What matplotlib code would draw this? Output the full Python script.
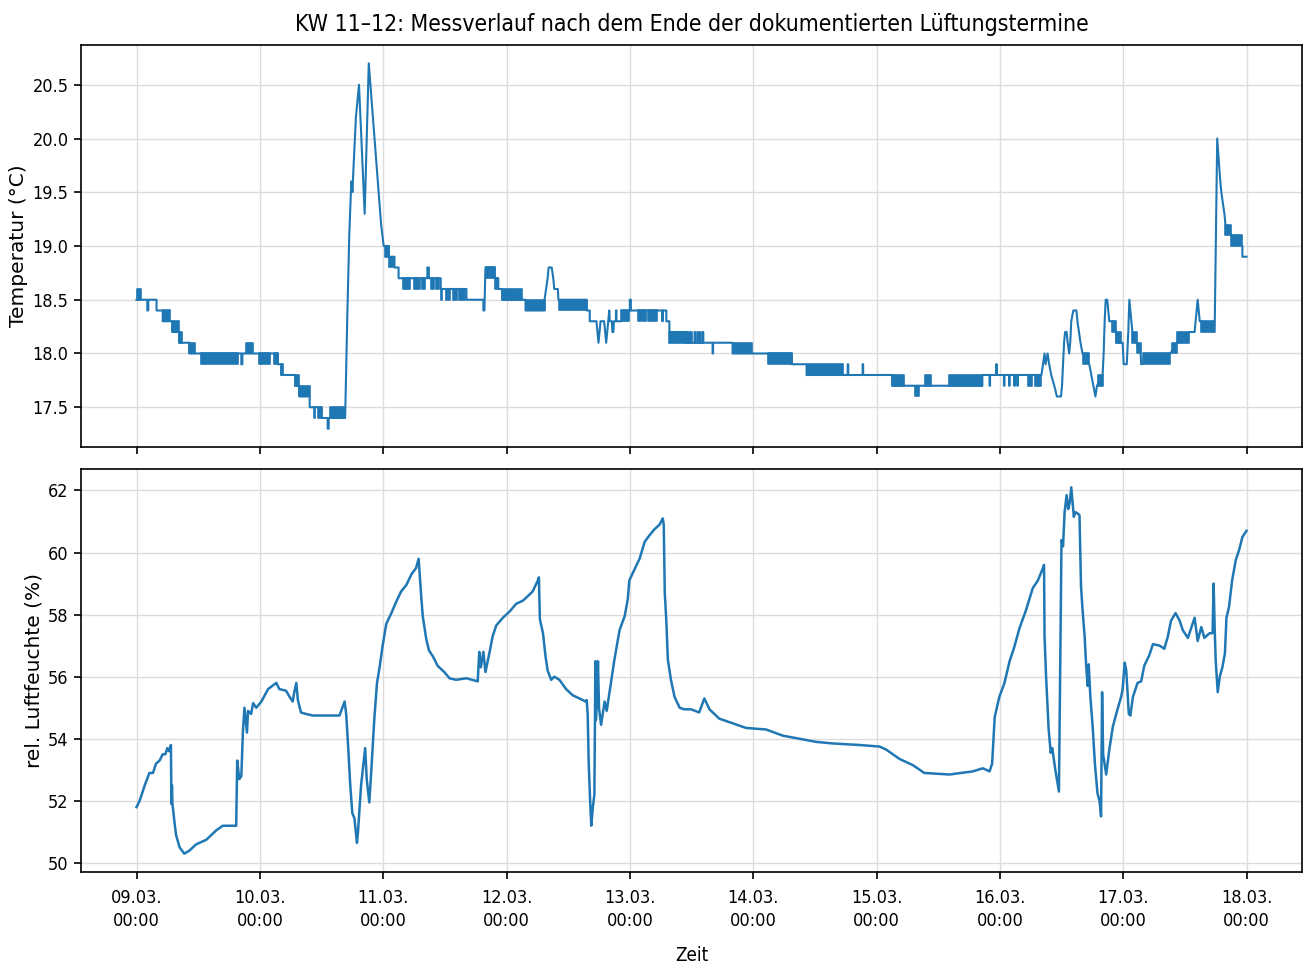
import pandas as pd
import matplotlib
matplotlib.use('Agg')
import matplotlib.pyplot as plt
import matplotlib.dates as mdates
from matplotlib.ticker import MultipleLocator

plt.rcParams['font.family'] = ['DejaVu Sans']
plt.rcParams['font.stretch'] = 'condensed'
plt.rcParams['font.size'] = 13

start = pd.Timestamp('2026-03-09 00:00')
title = 'KW 11\u201312: Messverlauf nach dem Ende der dokumentierten L\u00fcftungstermine'
blue = '#1f77b4'

# Temperatur: (Stunden ab 09.03. 00:00, °C)
temp_points = [
    (0.0, 18.5), (2.1, 18.5), (2.1, 18.4), (2.3, 18.4), (2.3, 18.5),
    (3.9, 18.5), (3.9, 18.4), (5.1, 18.4), (5.1, 18.3), (7.0, 18.3), (7.0, 18.2),
    (8.3, 18.2), (8.3, 18.1), (10.3, 18.1), (10.3, 18.0),
    (20.4, 18.0), (20.4, 17.9), (20.6, 17.9), (20.6, 18.0),
    (27.5, 18.0), (27.5, 17.9), (28.2, 17.9), (28.2, 17.8), (30.9, 17.8), (30.9, 17.7),
    (31.7, 17.7), (31.7, 17.6), (33.7, 17.6), (33.7, 17.5), (36.0, 17.5), (36.0, 17.4),
    (37.2, 17.4), (37.2, 17.3), (37.4, 17.3), (37.4, 17.4), (40.6, 17.4),
    (41.0, 18.3), (41.4, 19.1), (41.8, 19.6), (42.1, 19.6), (42.7, 20.2), (43.3, 20.5),
    (44.4, 19.3), (45.2, 20.7), (46.0, 20.2), (46.8, 19.7), (47.3, 19.4), (47.6, 19.2),
    (48.1, 19.0), (49.1, 19.0), (49.1, 18.9), (50.2, 18.9), (50.2, 18.8), (51.0, 18.8), (51.0, 18.7),
    (56.6, 18.7), (56.6, 18.8), (56.9, 18.8), (56.9, 18.7), (59.2, 18.7), (59.2, 18.6),
    (64.2, 18.6), (64.2, 18.5), (67.5, 18.5), (67.5, 18.4), (67.7, 18.4), (67.9, 18.8),
    (69.7, 18.8), (69.7, 18.7), (70.4, 18.7), (70.4, 18.6), (71.2, 18.6), (71.2, 18.5),
    (75.7, 18.5), (75.7, 18.4), (79.4, 18.4), (79.4, 18.5), (79.7, 18.6), (80.0, 18.7),
    (80.2, 18.8), (80.8, 18.8), (81.1, 18.7), (81.3, 18.6), (82.0, 18.6), (82.1, 18.5),
    (87.6, 18.5), (87.6, 18.4), (88.2, 18.4), (88.2, 18.3),
    (89.5, 18.3), (89.7, 18.2), (89.9, 18.1), (90.1, 18.2), (90.3, 18.3), (91.0, 18.3),
    (91.2, 18.2), (91.4, 18.1), (91.6, 18.2), (91.8, 18.3), (92.0, 18.4), (92.1, 18.3),
    (92.5, 18.3), (92.6, 18.2), (92.8, 18.2), (92.9, 18.3),
    (93.3, 18.3), (93.3, 18.4), (93.4, 18.4), (93.4, 18.3), (94.3, 18.3),
    (96.0, 18.4), (96.0, 18.5), (96.2, 18.5), (96.2, 18.4),
    (102.3, 18.4), (102.3, 18.3), (102.4, 18.3), (102.4, 18.4),
    (103.1, 18.4), (103.1, 18.3), (103.7, 18.3), (103.7, 18.2), (107.0, 18.2), (107.0, 18.1),
    (108.6, 18.1), (108.6, 18.2), (108.7, 18.2), (108.7, 18.1),
    (110.2, 18.1), (110.2, 18.2), (110.3, 18.2), (110.3, 18.1),
    (112.1, 18.1), (112.1, 18.0), (112.2, 18.0), (112.2, 18.1),
    (116.0, 18.1), (116.0, 18.0), (127.5, 18.0), (127.5, 17.9), (130.4, 17.9), (130.4, 17.8),
    (138.4, 17.8), (138.4, 17.9), (138.5, 17.9), (138.5, 17.8),
    (141.3, 17.8), (141.3, 17.9), (141.4, 17.9), (141.4, 17.8),
    (147.1, 17.8), (147.1, 17.7), (164.6, 17.7), (164.6, 17.8),
    (166.0, 17.8), (166.0, 17.7), (166.1, 17.7), (166.1, 17.8),
    (167.3, 17.8), (167.3, 17.9), (167.4, 17.9), (167.4, 17.8),
    (168.8, 17.8), (168.8, 17.7), (168.9, 17.7), (168.9, 17.8),
    (169.8, 17.8), (169.8, 17.7), (169.9, 17.7), (169.9, 17.8),
    (170.8, 17.8), (170.8, 17.7), (170.9, 17.7), (170.9, 17.8),
    (171.4, 17.8), (171.4, 17.7), (171.5, 17.7), (171.5, 17.8),
    (176.1, 17.8), (176.4, 17.9), (176.7, 18.0), (176.9, 17.9), (177.3, 18.0), (177.6, 17.9),
    (178.0, 17.8), (178.6, 17.7), (179.1, 17.6), (179.9, 17.6), (180.1, 17.7), (180.3, 17.9),
    (180.5, 18.1), (180.7, 18.2), (181.0, 18.2), (181.2, 18.1), (181.5, 18.0), (181.7, 18.1),
    (181.9, 18.3), (182.3, 18.4), (182.9, 18.4), (183.1, 18.3), (183.4, 18.2), (183.7, 18.1),
    (184.1, 18.0), (185.4, 17.9), (185.8, 17.8), (186.2, 17.7), (186.6, 17.6), (186.9, 17.7),
    (188.0, 17.8), (188.2, 18.0), (188.4, 18.3), (188.6, 18.5), (188.9, 18.5), (189.1, 18.4),
    (189.3, 18.3), (190.0, 18.3), (190.6, 18.2), (190.7, 18.1), (191.9, 18.1), (192.0, 18.0),
    (192.1, 17.9), (192.7, 17.9), (193.0, 18.2), (193.2, 18.5), (193.4, 18.4), (193.6, 18.3),
    (193.8, 18.2), (194.6, 18.1), (195.4, 18.0), (195.5, 17.9), (201.2, 18.0), (202.4, 18.1),
    (204.9, 18.2), (205.9, 18.2), (206.1, 18.3), (206.3, 18.4), (206.5, 18.5), (206.7, 18.4),
    (206.9, 18.3), (207.2, 18.3), (209.8, 18.2), (210.3, 20.0), (210.6, 19.8), (210.9, 19.6),
    (211.1, 19.5), (211.4, 19.4), (211.7, 19.3), (211.9, 19.2), (213.0, 19.1), (215.2, 19.0),
    (215.2, 18.9), (216.0, 18.9),
]

# Bereiche, in denen der Sensor zwischen zwei Werten springt: (von h, bis h, unten, oben)
temp_bands = [
    (0.0, 0.8, 18.5, 18.6), (5.1, 6.6, 18.3, 18.4), (7.0, 8.3, 18.2, 18.3),
    (8.3, 8.8, 18.1, 18.2), (10.3, 11.3, 18.0, 18.1), (12.6, 19.7, 17.9, 18.0),
    (21.4, 22.6, 18.0, 18.1), (23.9, 25.9, 17.9, 18.0), (26.7, 27.5, 17.9, 18.0),
    (28.2, 28.6, 17.8, 17.9), (30.9, 31.7, 17.7, 17.8), (31.7, 33.7, 17.6, 17.7),
    (34.6, 34.8, 17.4, 17.5), (35.4, 36.0, 17.4, 17.5), (37.6, 40.5, 17.4, 17.5),
    (41.8, 42.1, 19.5, 19.6), (48.4, 49.1, 18.9, 19.0), (49.2, 50.2, 18.8, 18.9),
    (51.8, 53.2, 18.6, 18.7), (54.0, 55.2, 18.6, 18.7), (55.6, 56.2, 18.6, 18.7),
    (57.4, 57.8, 18.6, 18.7), (58.2, 58.8, 18.6, 18.7), (59.2, 59.5, 18.5, 18.6),
    (60.2, 61.0, 18.5, 18.6), (61.5, 62.3, 18.5, 18.6), (62.7, 64.0, 18.5, 18.6),
    (68.0, 69.7, 18.7, 18.8), (69.7, 70.4, 18.6, 18.7), (71.2, 75.1, 18.5, 18.6),
    (75.7, 79.4, 18.4, 18.5), (82.3, 87.6, 18.4, 18.5), (94.3, 95.9, 18.3, 18.4),
    (97.5, 98.3, 18.3, 18.4), (98.5, 99.2, 18.3, 18.4), (99.5, 101.2, 18.3, 18.4),
    (103.7, 106.9, 18.1, 18.2), (107.0, 108.1, 18.1, 18.2), (109.1, 109.9, 18.1, 18.2),
    (116.0, 119.7, 18.0, 18.1), (122.8, 127.5, 17.9, 18.0), (130.4, 137.4, 17.8, 17.9),
    (147.1, 149.4, 17.7, 17.8), (151.4, 152.2, 17.6, 17.7), (153.5, 154.7, 17.7, 17.8),
    (158.2, 164.6, 17.7, 17.8), (173.4, 174.3, 17.7, 17.8), (174.9, 176.1, 17.7, 17.8),
    (184.1, 185.4, 17.9, 18.0), (187.1, 188.0, 17.7, 17.8), (189.9, 190.6, 18.2, 18.3),
    (190.7, 191.6, 18.1, 18.2), (193.8, 194.6, 18.1, 18.2), (194.6, 195.4, 18.0, 18.1),
    (195.8, 201.2, 17.9, 18.0), (201.5, 202.4, 18.0, 18.1), (202.4, 204.9, 18.1, 18.2),
    (207.2, 209.7, 18.2, 18.3), (211.9, 213.0, 19.1, 19.2), (213.0, 215.2, 19.0, 19.1),
]

# rel. Luftfeuchte: (Stunden ab 09.03. 00:00, %)
hum_points = [
    (0.0, 51.8), (0.6, 52.0), (1.6, 52.5), (2.5, 52.9), (3.2, 52.9), (3.8, 53.2), (4.5, 53.3),
    (5.1, 53.5), (5.6, 53.5), (6.0, 53.7), (6.3, 53.6), (6.7, 53.8),
    (6.8, 51.9), (6.9, 52.5), (7.0, 51.9), (7.4, 51.3), (7.7, 50.9), (8.4, 50.5), (9.3, 50.3),
    (10.3, 50.4), (11.6, 50.6), (13.6, 50.75), (15.5, 51.05), (16.8, 51.2), (19.4, 51.2),
    (19.6, 53.3), (20.0, 52.7), (20.4, 52.8), (20.7, 54.2), (21.0, 55.0), (21.3, 54.5),
    (21.5, 54.2), (21.7, 54.9), (22.3, 54.8), (22.7, 55.15), (23.3, 55.0), (24.3, 55.2),
    (25.6, 55.6), (27.2, 55.8), (27.8, 55.6), (29.1, 55.55), (29.8, 55.35), (30.4, 55.2),
    (30.7, 55.5), (31.1, 55.8), (31.4, 55.25), (32.0, 54.85), (33.0, 54.8), (34.3, 54.75),
    (36.9, 54.75), (39.5, 54.75), (40.5, 55.2), (40.8, 54.8),
    (41.1, 54.0), (41.6, 52.5), (42.0, 51.6), (42.4, 51.45), (42.9, 50.65), (43.1, 51.0),
    (43.7, 52.5), (44.5, 53.7), (44.8, 52.7), (45.3, 51.95), (45.7, 53.0), (46.3, 54.7),
    (46.8, 55.8), (47.3, 56.3), (47.9, 57.0), (48.6, 57.7), (49.6, 58.05), (50.5, 58.4),
    (51.5, 58.75), (52.5, 58.95), (53.5, 59.3), (54.4, 59.5), (54.9, 59.8),
    (55.4, 58.6), (55.7, 57.95), (56.4, 57.2), (56.9, 56.85), (57.7, 56.65), (58.6, 56.35),
    (59.9, 56.15), (60.9, 55.95), (62.2, 55.9), (64.2, 55.95), (66.4, 55.85), (66.7, 56.8),
    (67.0, 56.3), (67.5, 56.8), (67.9, 56.15), (68.6, 56.7), (69.3, 57.3), (70.0, 57.65),
    (71.3, 57.9), (72.6, 58.1), (73.9, 58.35), (75.2, 58.45), (76.5, 58.65), (77.1, 58.75),
    (78.1, 59.1), (78.3, 59.2),
    (78.5, 57.85), (79.1, 57.4), (79.6, 56.65), (80.0, 56.2), (80.7, 55.9), (81.3, 56.0),
    (82.3, 55.9), (83.6, 55.6), (84.9, 55.4), (86.2, 55.3), (87.4, 55.2), (87.6, 55.25),
    (87.8, 54.8), (88.0, 53.2), (88.3, 51.9), (88.5, 51.2), (88.8, 51.8), (89.1, 52.2),
    (89.3, 56.5), (89.4, 54.6), (89.6, 55.3), (89.8, 56.5), (90.0, 55.0), (90.4, 54.45),
    (91.1, 55.2), (91.5, 54.9), (92.0, 55.45), (93.0, 56.55), (94.0, 57.5), (95.0, 57.95),
    (95.6, 58.5), (95.9, 59.1), (96.6, 59.35), (97.9, 59.8), (98.9, 60.35), (99.8, 60.55),
    (100.8, 60.75), (101.8, 60.9), (102.4, 61.1),
    (102.6, 60.9), (102.8, 58.7), (103.1, 57.8), (103.4, 56.55), (104.0, 55.9), (104.7, 55.35),
    (105.7, 55.0), (106.6, 54.95), (107.9, 54.95), (109.5, 54.85), (110.5, 55.3), (111.5, 54.95),
    (113.4, 54.65), (116.0, 54.5), (118.6, 54.35), (122.5, 54.3), (125.8, 54.1), (129.0, 54.0),
    (132.3, 53.9), (135.5, 53.85), (140.7, 53.8), (144.6, 53.75), (145.9, 53.65), (148.5, 53.35),
    (151.1, 53.15), (153.3, 52.9), (158.2, 52.85), (162.7, 52.95), (164.7, 53.05), (166.0, 52.95),
    (166.5, 53.2),
    (167.0, 54.7), (167.9, 55.35), (168.9, 55.8), (169.9, 56.5), (170.8, 56.95), (171.8, 57.55),
    (173.1, 58.15), (174.4, 58.85), (175.4, 59.1), (176.4, 59.5), (176.6, 59.6),
    (176.7, 57.3), (177.0, 56.0), (177.5, 54.3), (177.9, 53.55), (178.2, 53.7), (178.8, 53.0),
    (179.5, 52.3),
    (179.8, 57.3), (180.0, 60.4), (180.3, 60.2), (180.6, 61.3), (181.0, 61.85), (181.3, 61.4),
    (181.6, 61.6), (181.9, 62.1), (182.4, 61.15), (182.7, 61.3), (183.2, 61.25), (183.5, 61.2),
    (183.8, 58.9), (184.1, 58.15), (184.5, 57.3), (184.8, 56.35), (185.1, 55.7), (185.3, 56.4),
    (185.6, 55.4), (186.1, 54.3), (186.5, 53.2), (187.0, 52.25), (187.4, 52.0), (187.7, 51.5),
    (187.9, 55.5), (188.1, 53.5), (188.7, 52.85), (189.3, 53.65), (190.0, 54.4), (190.9, 54.95),
    (191.6, 55.35), (191.9, 55.6), (192.3, 56.45), (192.6, 56.2), (193.1, 54.8), (193.4, 54.75),
    (193.9, 55.35), (194.8, 55.8), (195.5, 55.85), (196.1, 56.35), (197.1, 56.7), (197.8, 57.05),
    (199.1, 57.0), (200.0, 56.9), (200.7, 57.3), (201.3, 57.8), (202.2, 58.05), (203.0, 57.8),
    (203.6, 57.5), (204.6, 57.25), (205.3, 57.6), (205.9, 57.9), (206.5, 57.15), (207.2, 57.6),
    (207.8, 57.25), (208.8, 57.4), (209.4, 57.4),
    (209.6, 59.0), (209.8, 57.6), (210.0, 56.55), (210.4, 55.5), (210.8, 56.0), (211.3, 56.3),
    (211.8, 56.75), (212.1, 57.9), (212.6, 58.25), (213.2, 59.1), (213.9, 59.75), (214.6, 60.1),
    (215.2, 60.5), (216.0, 60.7),
]


def to_time(hours):
    return start + pd.to_timedelta(hours, unit='h')


temp_t = to_time([p[0] for p in temp_points])
temp_v = [p[1] for p in temp_points]
hum_t = to_time([p[0] for p in hum_points])
hum_v = [p[1] for p in hum_points]

W, H = 1303, 965
fig = plt.figure(figsize=(W / 100, H / 100), dpi=100)
ax1 = fig.add_axes([81 / W, 1 - 447 / H, 1221 / W, 402 / H])
ax2 = fig.add_axes([81 / W, 1 - 872 / H, 1221 / W, 403 / H], sharex=ax1)

ax1.plot(temp_t, temp_v, color=blue, linewidth=1.5)
for t0, t1, lo, hi in temp_bands:
    ax1.fill_between(to_time([t0, t1]), lo, hi, color=blue, linewidth=1.2)

ax2.plot(hum_t, hum_v, color=blue, linewidth=1.8)

ax1.yaxis.set_major_locator(MultipleLocator(0.5))
ax2.yaxis.set_major_locator(MultipleLocator(2))
ax2.xaxis.set_major_locator(mdates.DayLocator())
ax2.xaxis.set_major_formatter(mdates.DateFormatter('%d.%m.\n%H:%M'))
ax1.tick_params(labelbottom=False)

for ax in (ax1, ax2):
    ax.grid(True, color='#dcdcdc', linewidth=1.0)
    ax.set_axisbelow(True)
    ax.tick_params(length=5, width=1.2, pad=4, labelsize=13)
    for sp in ax.spines.values():
        sp.set_linewidth(1.2)

ax2.tick_params(axis='x', pad=7)
for lab in ax2.get_xticklabels():
    lab.set_linespacing(1.4)

ax1.set_ylabel('Temperatur (\u00b0C)', fontsize=14.5, fontstretch='normal', labelpad=3)
ax2.set_ylabel('rel. Luftfeuchte (%)', fontsize=14.5, fontstretch='normal', labelpad=3)
ax2.set_xlabel('Zeit', fontsize=13.5, labelpad=11)
ax1.set_title(title, fontsize=16.5, pad=10)

fig.savefig('out.png', dpi=100)
